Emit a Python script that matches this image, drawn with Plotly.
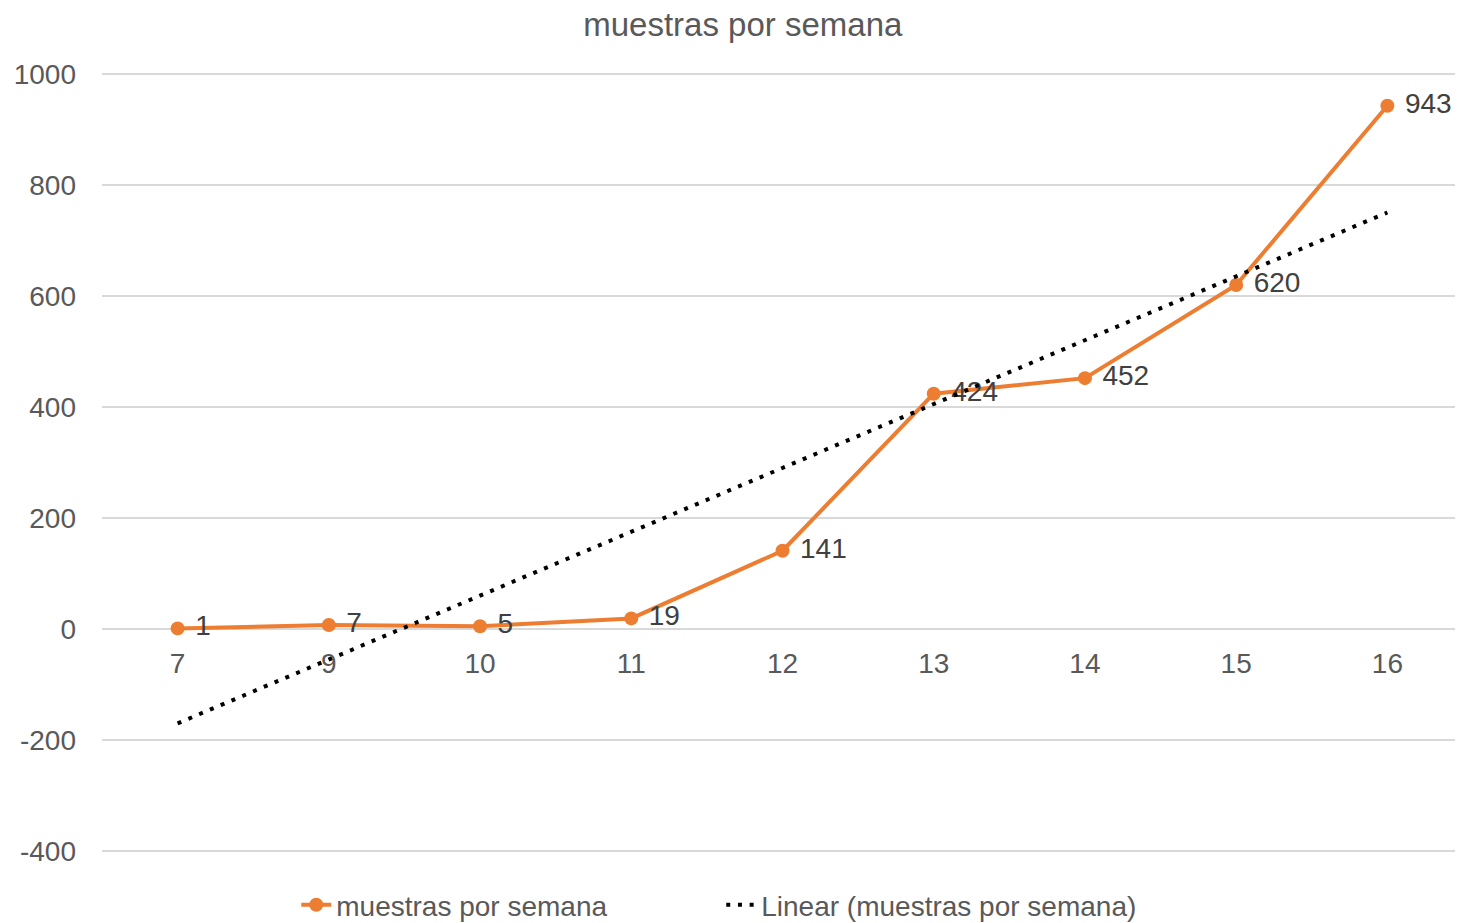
import numpy as np
import plotly.graph_objects as go

# weeks (category axis) and samples per week
semanas = ["7", "9", "10", "11", "12", "13", "14", "15", "16"]
muestras = [1, 7, 5, 19, 141, 424, 452, 620, 943]
y_ticks = [-400, -200, 0, 200, 400, 600, 800, 1000]

ORANGE = "#ED7D31"
GRID = "#D9D9D9"
TEXT = "#595959"
FONT = "Liberation Sans, Arial, sans-serif"

# linear trendline like Excel: least squares over the category index
idx = np.arange(1, len(muestras) + 1)
slope, intercept = np.polyfit(idx, muestras, 1)
trend_y = [slope * idx[0] + intercept, slope * idx[-1] + intercept]

fig = go.Figure()

fig.add_trace(
    go.Scatter(
        x=semanas,
        y=muestras,
        mode="lines+markers+text",
        name="muestras por semana",
        line=dict(color=ORANGE, width=4),
        marker=dict(color=ORANGE, size=14),
        text=["\u00a0" + str(v) for v in muestras],
        textposition="middle right",
        textfont=dict(family=FONT, size=28, color="#404040"),
    )
)
fig.add_trace(
    go.Scatter(
        x=[semanas[0], semanas[-1]],
        y=trend_y,
        mode="lines",
        name="Linear (muestras por semana)",
        line=dict(color="black", width=4, dash="4px,7.7px"),
    )
)

# the html page has an 8px body margin, so the figure is 8px smaller
H = 915
fig.update_layout(
    width=1455,
    height=H,
    margin=dict(l=94, r=0, t=65, b=71),
    paper_bgcolor="white",
    plot_bgcolor="white",
    font=dict(family=FONT, size=28, color=TEXT),
    title=dict(
        text="muestras por semana",
        x=0.505,
        xanchor="center",
        y=1 - 16 / H,
        yanchor="middle",
        font=dict(size=33, color=TEXT),
    ),
    showlegend=True,
    # container reference so the legend does not push the bottom margin
    legend=dict(
        orientation="h",
        x=0.455,
        xanchor="center",
        yref="container",
        y=1 - 897 / H,
        yanchor="middle",
        font=dict(size=28, color=TEXT),
        entrywidth=380,
    ),
    xaxis=dict(
        type="category",
        range=[-0.5, len(semanas) - 0.5],
        anchor="free",
        position=402 / 1404,
        automargin=False,
        showgrid=False,
        showline=False,
        zeroline=False,
        ticks="",
        ticklabelstandoff=15,
        tickfont=dict(size=28, color=TEXT),
    ),
    yaxis=dict(
        range=[-402, 1002],
        tickvals=y_ticks,
        ticktext=[str(v) for v in y_ticks],
        automargin=False,
        showgrid=True,
        gridcolor=GRID,
        gridwidth=1.5,
        zeroline=True,
        zerolinecolor=GRID,
        zerolinewidth=1.5,
        showline=False,
        ticks="",
        ticklabelstandoff=25,
        tickfont=dict(size=28, color=TEXT),
    ),
)

fig.write_html("out.html")
